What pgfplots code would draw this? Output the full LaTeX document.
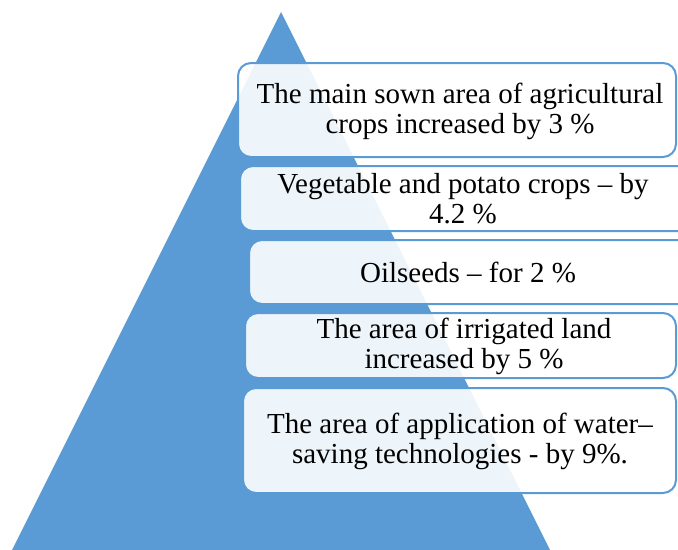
\documentclass[border=0pt]{standalone}
\usepackage{pgfplots}
\pgfplotsset{compat=1.18}
\usepackage{fontspec}
\setmainfont{Liberation Serif}
\definecolor{tri}{HTML}{5B9BD5}
\tikzset{
  boxstyle/.style={draw=tri, line width=2bp, fill=white, fill opacity=0.9, draw opacity=1, rounded corners=13bp},
  lab/.style={align=center, font=\fontsize{29bp}{30bp}\selectfont, text=black, inner sep=0pt}
}
\begin{document}
\begin{tikzpicture}
\useasboundingbox (0,0) rectangle (678bp,550bp);
\begin{axis}[
  at={(0,0)}, anchor=south west,
  scale only axis, width=678bp, height=550bp,
  xmin=0, xmax=678, ymin=0, ymax=550, y dir=reverse,
  hide axis, clip=true,
  every axis plot/.append style={line join=round}
]
% pyramid
\addplot[fill=tri, draw=none] coordinates {(12,550) (281,12) (550,550)} -- cycle;
% boxes
\addplot[boxstyle] coordinates {(238,63) (676,63) (676,157) (238,157)} -- cycle;
\addplot[boxstyle] coordinates {(240,166) (700,166) (700,231) (240,231)} -- cycle;
\addplot[boxstyle] coordinates {(249,240) (700,240) (700,304) (249,304)} -- cycle;
\addplot[boxstyle] coordinates {(245,313) (676,313) (676,378) (245,378)} -- cycle;
\addplot[boxstyle] coordinates {(243,388) (676,388) (676,493) (243,493)} -- cycle;
\node[lab] at (axis cs:460,111) {The main sown area of agricultural\\crops increased by 3 \%};
\node[lab] at (axis cs:463,199) {Vegetable and potato crops -- by\\4.2 \%};
\node[lab] at (axis cs:468,272) {Oilseeds -- for 2 \%};
\node[lab] at (axis cs:464,346) {The area of irrigated land\\increased by 5 \%};
\node[lab] at (axis cs:460,441) {The area of application of water--\\saving technologies - by 9\%.};
\end{axis}
\end{tikzpicture}
\end{document}
